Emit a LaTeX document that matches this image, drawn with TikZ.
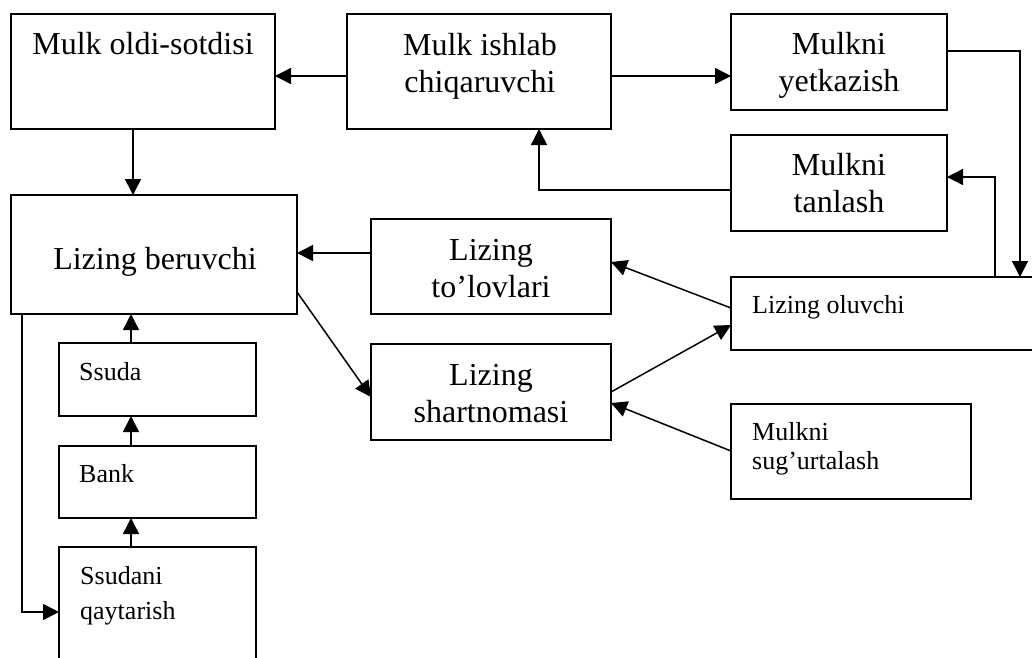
\documentclass[tikz,border=0pt]{standalone}
\usepackage{fontspec}
\setmainfont{Liberation Serif}
\usetikzlibrary{arrows.meta}
\begin{document}
\begin{tikzpicture}[x=1pt,y=-1pt,
  box/.style={draw, line width=1.6pt, anchor=north west, inner sep=0pt, outer sep=0pt},
  big/.style={font=\fontsize{32}{37}\selectfont, anchor=base, inner sep=0pt},
  small/.style={font=\fontsize{26}{30}\selectfont, anchor=base west, inner sep=0pt},
  arr/.style={line width=1.5pt, -{Triangle[length=16pt,width=16pt]}}]
\useasboundingbox (0,0) rectangle (1032,657);
\clip (0,0) rectangle (1032,657);
\fill[white] (0,0) rectangle (1032,657);
% boxes
\node[box, minimum width=264pt, minimum height=115pt] (b1) at (11,14) {};
\node[box, minimum width=264pt, minimum height=115pt] (b2) at (347,14) {};
\node[box, minimum width=216pt, minimum height=96pt] (b3) at (731,14) {};
\node[box, minimum width=216pt, minimum height=96pt] (b4) at (731,135) {};
\node[box, minimum width=320pt, minimum height=73pt] (b5) at (731,277) {};
\node[box, minimum width=286pt, minimum height=119pt] (b6) at (11,195) {};
\node[box, minimum width=240pt, minimum height=95pt] (b7) at (371,219) {};
\node[box, minimum width=240pt, minimum height=96pt] (b8) at (371,344) {};
\node[box, minimum width=240pt, minimum height=95pt] (b9) at (731,404) {};
\node[box, minimum width=197pt, minimum height=73pt] (b10) at (59,343) {};
\node[box, minimum width=197pt, minimum height=72pt] (b11) at (59,446) {};
\node[box, minimum width=197pt, minimum height=140pt] (b12) at (59,547) {};
% texts
\node[big] (t1) at (143,54) {Mulk oldi-sotdisi};
\node[big] (t2a) at (480,55) {Mulk ishlab};
\node[big] (t2b) at (480,92) {chiqaruvchi};
\node[big] (t3a) at (839,54) {Mulkni};
\node[big] (t3b) at (839,91) {yetkazish};
\node[big] (t4a) at (839,175) {Mulkni};
\node[big] (t4b) at (839,212) {tanlash};
\node[big] (t6) at (155,269) {Lizing beruvchi};
\node[big] (t7a) at (491,260) {Lizing};
\node[big] (t7b) at (491,297) {to’lovlari};
\node[big] (t8a) at (491,385) {Lizing};
\node[big] (t8b) at (491,422) {shartnomasi};
\node[small] (t5) at (752,313) {Lizing oluvchi};
\node[small] (t9a) at (752,440) {Mulkni};
\node[small] (t9b) at (752,469) {sug’urtalash};
\node[small] (t10) at (79,380) {Ssuda};
\node[small] (t11) at (79,482) {Bank};
\node[small] (t12a) at (80,584) {Ssudani};
\node[small] (t12b) at (80,619) {qaytarish};
% connectors
\draw[arr] (b2.west |- 0,76) -- (b1.east |- 0,76);
\draw[arr] (b2.east |- 0,76) -- (b3.west |- 0,76);
\draw[arr] (b1.south -| 133,0) -- (b6.north -| 133,0);
\draw[arr] (b3.east |- 0,51) -| (b5.north -| 1020,0);
\draw[arr] (b5.north -| 995,0) |- (b4.east |- 0,177);
\draw[arr] (b4.west |- 0,190) -| (b2.south -| 539,0);
\draw[arr] (b7.west |- 0,253) -- (b6.east |- 0,253);
\draw[arr] (b5.west |- 0,308) -- (b7.east |- 0,262);
\draw[arr] (b8.east |- 0,392) -- (b5.west |- 0,325);
\draw[arr] (b9.west |- 0,451) -- (b8.east |- 0,403);
\draw[arr] (b6.east |- 0,292) -- (b8.west |- 0,397);
\draw[arr] (b10.north -| 131,0) -- (b6.south -| 131,0);
\draw[arr] (b11.north -| 131,0) -- (b10.south -| 131,0);
\draw[arr] (b12.north -| 131,0) -- (b11.south -| 131,0);
\draw[arr] (b6.south -| 22,0) |- (b12.west |- 0,612);
\end{tikzpicture}
\end{document}
